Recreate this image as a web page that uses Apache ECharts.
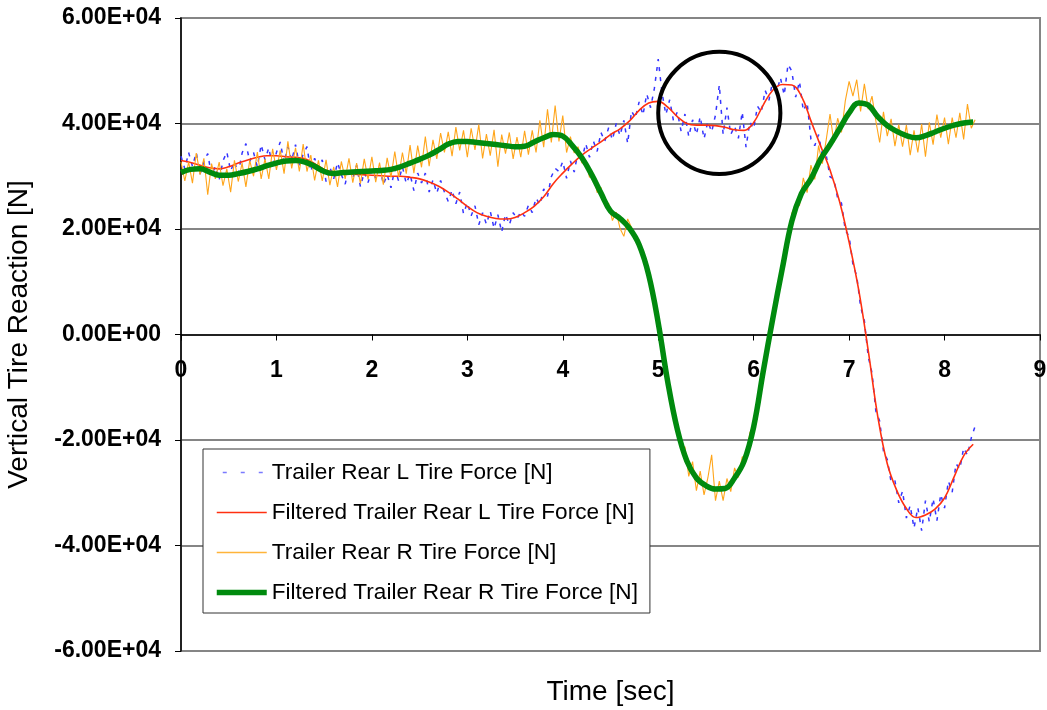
<!DOCTYPE html>
<html>
<head>
<meta charset="utf-8">
<script src="https://cdn.jsdelivr.net/npm/echarts@6/dist/echarts.min.js"></script>
<style>
  html, body { margin: 0; padding: 0; background: #fff; }
  #chart { width: 1047px; height: 710px; }
</style>
</head>
<body>
<div id="chart"></div>
<script>
// Sampling intervals [s]
const RAW_DT = 0.04;
const FILT_DT = 0.1;

// Trailer rear left tire, raw vertical force [N]
const rawL = [
  33800, 31400, 34500, 31900, 34500, 30400, 32800, 34300, 30100, 31900,
  29300, 32900, 34600, 31000, 32800, 30500, 34400, 36200, 32800, 34500,
  31800, 36000, 33100, 35400, 31600, 34500, 36500, 32500, 35600, 33000,
  36000, 32100, 34200, 35600, 30900, 33400, 31500, 33100, 29000, 31700,
  29500, 32600, 30300, 28500, 31600, 29600, 32100, 28000, 30800, 28800,
  31300, 29600, 32100, 28400, 30300, 27800, 31400, 29100, 31800, 28600,
  30400, 27300, 30600, 28700, 30600, 27000, 29300, 26800, 29200, 27000,
  25200, 27400, 24800, 27000, 22900, 25000, 22500, 24400, 20800, 23100,
  20900, 23400, 20100, 22700, 19400, 22800, 20800, 23100, 21900, 23300,
  22400, 24500, 23100, 25900, 24600, 27600, 26200, 29900, 31500, 30900,
  32800, 29600, 32900, 30800, 34700, 33200, 36200, 33600, 36700, 34700,
  38300, 36600, 39200, 36900, 40000, 37700, 40600, 36200, 42400, 41000,
  44100, 41600, 45600, 43000, 46700, 52200, 45800, 41700, 44500, 40500,
  42200, 38500, 41800, 37500, 40700, 37900, 41300, 37100, 40400, 38400,
  41600, 47300, 37900, 43000, 37900, 39500, 37200, 42200, 35500, 40300,
  39000, 43300, 42100, 46300, 44400, 48100, 45800, 48700, 45400, 51200,
  49900, 45000, 48000, 42400, 44000, 37000, 35800, 37900, 33800, 34000,
  29900, 29500, 25800, 24900, 19800, 18600, 13300, 11100, 5300, 2600,
  -4200, -7300, -14500, -16400, -22100, -23700, -28000, -27700, -31900, -29700,
  -34800, -32400, -36700, -32800, -37200, -31500, -35500, -31100, -35300, -30300,
  -32900, -27800, -29900, -24500, -25500, -21500, -22900, -19600, -17400
];

// Trailer rear left tire, filtered [N]
const filtL = [
  33000, 32600, 32100, 31600, 31400, 31800, 32500, 33100, 33600, 33900,
  33900, 33700, 33600, 33300, 32400, 31300, 30800, 30500, 30400, 30300,
  30200, 30100, 30000, 30000, 29800, 29500, 28900, 28100, 27000, 25700,
  24300, 23100, 22400, 22000, 21900, 22200, 23100, 24300, 26100, 28600,
  30600, 32400, 34000, 35300, 36500, 37900, 39000, 40500, 42500, 43900,
  44200, 43100, 41300, 40000, 39700, 39700, 39600, 39300, 38800, 38700,
  40200, 43500, 46300, 47400, 47300, 45200, 40500, 35800, 31200, 25200,
  17500, 8500, -3000, -15500, -24500, -29600, -33000, -34700, -34200, -33100,
  -31000, -27000, -23000, -20800
];

// Trailer rear right tire, raw vertical force [N]
const rawR = [
  32700, 29100, 32700, 28700, 34400, 30300, 33400, 26500, 32400, 29500,
  32700, 28200, 31400, 27000, 33000, 29000, 32500, 28000, 33000, 30000,
  34600, 29500, 33300, 29500, 35200, 31200, 34900, 30500, 36600, 31500,
  35400, 30900, 36100, 30900, 34000, 29200, 33000, 29100, 33100, 28300,
  31800, 28000, 32800, 29500, 33400, 28800, 32500, 28600, 33300, 29400,
  33700, 28900, 32600, 28400, 33500, 29800, 34700, 29800, 34500, 30500,
  35900, 30600, 35800, 31700, 37500, 31900, 36900, 33300, 38200, 34500,
  38400, 33800, 39300, 34900, 38700, 33600, 39100, 35000, 39800, 33400,
  38000, 33900, 38800, 31800, 37900, 34300, 38300, 33300, 37400, 33600,
  38600, 34100, 38700, 34500, 40600, 35500, 42700, 36400, 43400, 36600,
  41500, 34500, 37500, 34400, 35600, 32500, 33000, 29800, 30600, 26900,
  27900, 24400, 24900, 21600, 23200, 20100, 18600, 21900, 20300, 18700,
  17400, 15300, 13900, 9900, 5500, 2700, -2100, -6000, -11200, -14100,
  -18500, -21600, -21300, -26900, -24100, -29600, -25900, -30400, -27200, -22800,
  -31500, -27800, -31500, -27300, -29800, -25300, -27100, -23200, -23500, -18600,
  -17100, -13800, -8500, -5400, -500, 2700, 7600, 10100, 15200, 17300,
  23000, 24800, 24400, 29700, 26900, 32100, 29400, 35800, 32400, 36900,
  41800, 36400, 41000, 38300, 44300, 48000, 45200, 48300, 42300, 47500,
  42700, 45200, 40500, 36400, 42200, 37600, 40900, 35700, 39800, 35600,
  39700, 34000, 38700, 34500, 39900, 33700, 40200, 36000, 41700, 37300,
  41100, 36100, 41100, 37300, 42000, 37000, 43700, 39100, 40700
];

// Trailer rear right tire, filtered [N]
const filtR = [
  30700, 31300, 31400, 30800, 30200, 30200, 30500, 30900, 31400, 32000,
  32500, 32900, 33000, 32700, 31900, 30900, 30500, 30700, 30800, 30900,
  31000, 31100, 31300, 31800, 32500, 33200, 34000, 35000, 36100, 36600,
  36600, 36400, 36200, 36000, 35800, 35600, 35700, 36500, 37300, 37900,
  37600, 35800, 33500, 30400, 26800, 23400, 22000, 20100, 17000, 11300,
  2200, -9000, -18000, -24000, -27200, -28650, -29300, -29200, -27200, -24000,
  -17500, -7000, 3000, 12500, 21500, 26700, 29500, 33200, 36000, 39000,
  42000, 43900, 43500, 41300, 39600, 38500, 37700, 37300, 37700, 38400,
  39100, 39700, 40100, 40300
];

// Highlighted region of interest: centre (time, force) and radius in seconds
const focusCentre = [5.64, 42000];
const focusRadius = 0.64;

const seriesNames = [
  'Trailer Rear L Tire Force [N]',
  'Filtered Trailer Rear L Tire Force [N]',
  'Trailer Rear R Tire Force [N]',
  'Filtered Trailer Rear R Tire Force [N]'
];

const FONT = '"Liberation Sans", Arial, Helvetica, sans-serif';

const lineStyles = [
  { color: '#3535ff', width: 1.5, type: [4, 6] },
  { color: '#ff3010', width: 1.6 },
  { color: '#ffa51a', width: 1.1 },
  { color: '#008a0e', width: 5.5 }
];
// Legend keys: same colours and widths, wider dash spacing for the raw signal
const legendLineStyles = [
  { color: '#7a7aff', width: 1.5, type: [4, 14], dashOffset: -6 },
  { color: '#ff3010', width: 1.6 },
  { color: '#ffb43a', width: 1.4 },
  { color: '#008a0e', width: 5.5 }
];

function withTime(values, dt) {
  return values.map((v, i) => [Math.round(i * dt * 100) / 100, v]);
}

function sci(v) {
  if (v === 0) return '0.00E+00';
  const e = Math.floor(Math.log10(Math.abs(v)));
  const m = v / Math.pow(10, e);
  const es = (e < 0 ? '-' : '+') + String(Math.abs(e)).padStart(2, '0');
  return m.toFixed(2) + 'E' + es;
}

const chart = echarts.init(document.getElementById('chart'), null, { renderer: 'canvas' });

const option = {
  animation: false,
  backgroundColor: '#ffffff',
  textStyle: { fontFamily: FONT },
  grid: {
    left: 181, top: 18, right: 7, bottom: 59,
    containLabel: false, outerBoundsMode: 'none',
    show: true, borderColor: '#858585', borderWidth: 2,
    backgroundColor: 'transparent'
  },
  legend: {
    data: seriesNames.map((name, i) => ({ name, lineStyle: legendLineStyles[i] })),
    orient: 'vertical',
    left: 203, top: 449,
    padding: [12, 12, 9, 11],
    itemWidth: 50, itemHeight: 24, itemGap: 17,
    backgroundColor: '#ffffff',
    borderColor: '#333333', borderWidth: 1,
    itemStyle: { opacity: 0, borderWidth: 0 },
    textStyle: { fontFamily: FONT, fontSize: 22.6, color: '#000' },
    selectedMode: false
  },
  xAxis: {
    type: 'value', min: 0, max: 9, interval: 1,
    name: 'Time [sec]', nameLocation: 'middle', nameGap: 344,
    nameTextStyle: { fontFamily: FONT, fontSize: 28, color: '#000' },
    axisLine: { show: true, onZero: false, lineStyle: { color: '#000', width: 1.5 } },
    axisTick: { show: true, length: 6, lineStyle: { color: '#000', width: 1 } },
    axisLabel: { fontFamily: FONT, fontSize: 23, fontWeight: 'bold', color: '#000', margin: 25 },
    splitLine: { show: false }
  },
  yAxis: {
    type: 'value', min: -60000, max: 60000, interval: 20000,
    name: 'Vertical Tire Reaction [N]', nameLocation: 'middle', nameGap: 148, nameRotate: 90,
    nameTextStyle: { fontFamily: FONT, fontSize: 28, color: '#000' },
    axisLine: { show: true, onZero: false, lineStyle: { color: '#000', width: 1.5 } },
    axisTick: { show: true, length: 6, lineStyle: { color: '#000', width: 1 } },
    axisLabel: { fontFamily: FONT, fontSize: 23, fontWeight: 'bold', color: '#000', margin: 20, formatter: sci },
    splitLine: { show: true, lineStyle: { color: '#858585', width: 2 } }
  },
  series: [
    {
      name: seriesNames[0], type: 'line', data: withTime(rawL, RAW_DT),
      symbol: 'none', silent: true, lineStyle: lineStyles[0],
      itemStyle: { color: lineStyles[0].color }, z: 2
    },
    {
      name: seriesNames[1], type: 'line', data: withTime(filtL, FILT_DT),
      symbol: 'none', smooth: 0.4, silent: true, lineStyle: lineStyles[1],
      itemStyle: { color: lineStyles[1].color }, z: 3
    },
    {
      name: seriesNames[2], type: 'line', data: withTime(rawR, RAW_DT),
      symbol: 'none', silent: true, lineStyle: lineStyles[2],
      itemStyle: { color: lineStyles[2].color }, z: 4
    },
    {
      name: seriesNames[3], type: 'line', data: withTime(filtR, FILT_DT),
      symbol: 'none', smooth: 0.4, silent: true, lineStyle: lineStyles[3],
      itemStyle: { color: lineStyles[3].color }, z: 5
    }
  ]
};

chart.setOption(option);

// Lift the time axis (with its labels and title) onto the zero-force line
const yZero = chart.convertToPixel({ yAxisIndex: 0 }, 0);
const yBottom = chart.convertToPixel({ yAxisIndex: 0 }, -60000);

// Ring around the region of interest, sized in data units
const c = chart.convertToPixel({ gridIndex: 0 }, focusCentre);
const e = chart.convertToPixel({ gridIndex: 0 }, [focusCentre[0] + focusRadius, focusCentre[1]]);
const rPx = Math.abs(e[0] - c[0]);

chart.setOption({
  xAxis: { offset: yZero - yBottom },
  graphic: [{
    type: 'circle', silent: true, z: 100,
    shape: { cx: c[0], cy: c[1], r: rPx },
    style: { fill: 'none', stroke: '#000', lineWidth: 4 }
  }]
});
</script>
</body>
</html>
